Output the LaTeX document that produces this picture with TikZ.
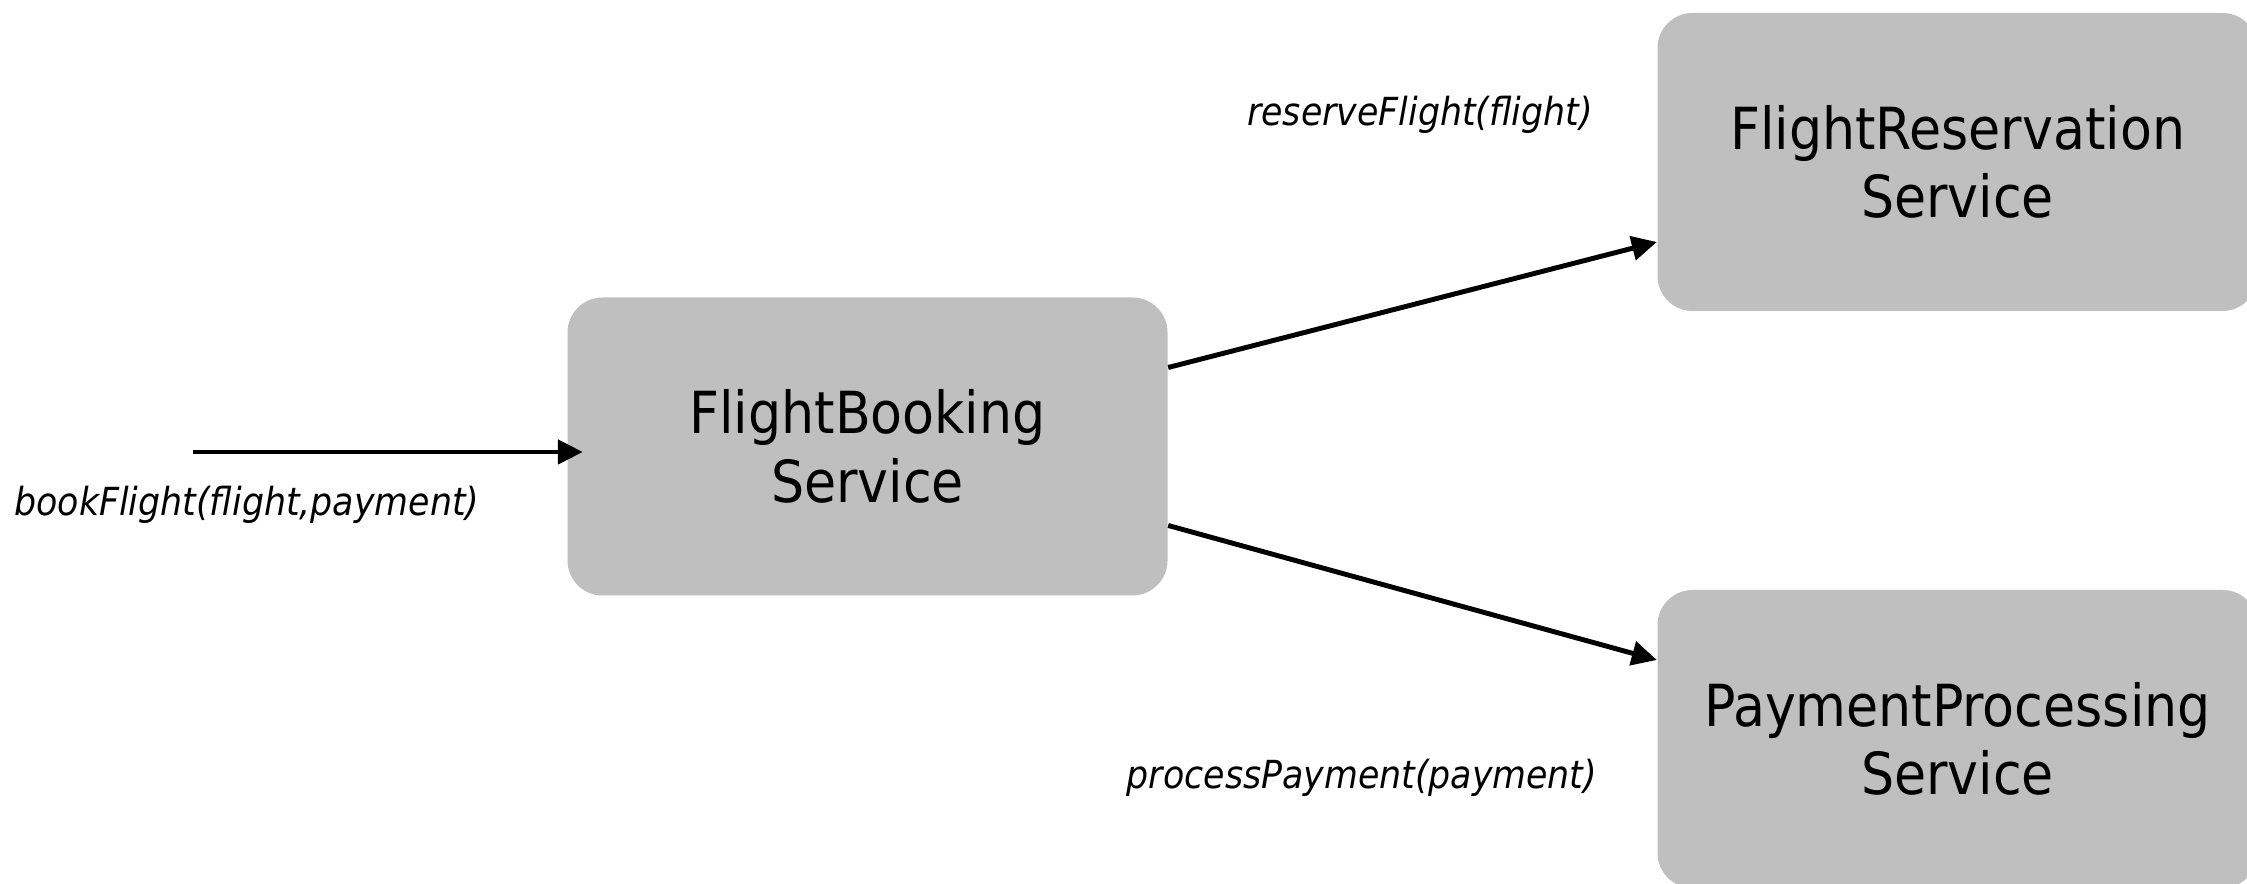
\documentclass[tikz,border=0pt]{standalone}
\usepackage{fontspec}
\setmainfont{DejaVu Sans Condensed}
\usetikzlibrary{shapes.geometric, arrows, arrows.meta}
\usetikzlibrary{positioning}
\definecolor{boxgray}{RGB}{191,191,191}
\tikzstyle{service} = [rectangle, rounded corners=0.35cm, minimum width=6cm, minimum height=2.98cm, text centered, align=center, font=\fontsize{16.5}{19.5}\selectfont, draw=none, fill=boxgray]
\tikzstyle{call} = [font=\itshape\fontsize{11}{13}\selectfont, inner sep=0pt]
\tikzstyle{arrow} = [line width=1.4pt,->,>={Triangle[length=0.25cm,width=0.24cm]}]

\begin{document}
\begin{tikzpicture}
 \useasboundingbox (0,0) rectangle (22.47,8.84);
 \node (booking) [service] at (8.675,4.375) {FlightBooking\\Service};
 \node (reservation) [service, right of=booking, node distance=10.9cm, yshift=2.845cm] {FlightReservation\\Service};
 \node (payment) [service, below of=reservation, node distance=5.77cm] {PaymentProcessing\\Service};

 \coordinate (booking_in) at ([xshift=0.16cm, yshift=-0.055cm]booking.west);
 \coordinate (client) at ([xshift=-3.9cm]booking_in);
 \coordinate (booking_up) at ([yshift=0.79cm]booking.east);
 \coordinate (booking_down) at ([yshift=-0.79cm]booking.east);
 \coordinate (reservation_in) at ([yshift=-0.8cm]reservation.west);
 \coordinate (payment_in) at ([yshift=0.79cm]payment.west);

 \node (book_call) [call] at (2.47,3.79) {bookFlight(flight,payment)};
 \node (reserve_call) [call] at (14.2,7.69) {reserveFlight(flight)};
 \node (payment_call) [call] at (13.62,1.06) {processPayment(payment)};

 \draw [arrow] (client) -- (booking_in);
 \draw [arrow] (booking_up) -- (reservation_in);
 \draw [arrow] (booking_down) -- (payment_in);

\end{tikzpicture}
\end{document}
